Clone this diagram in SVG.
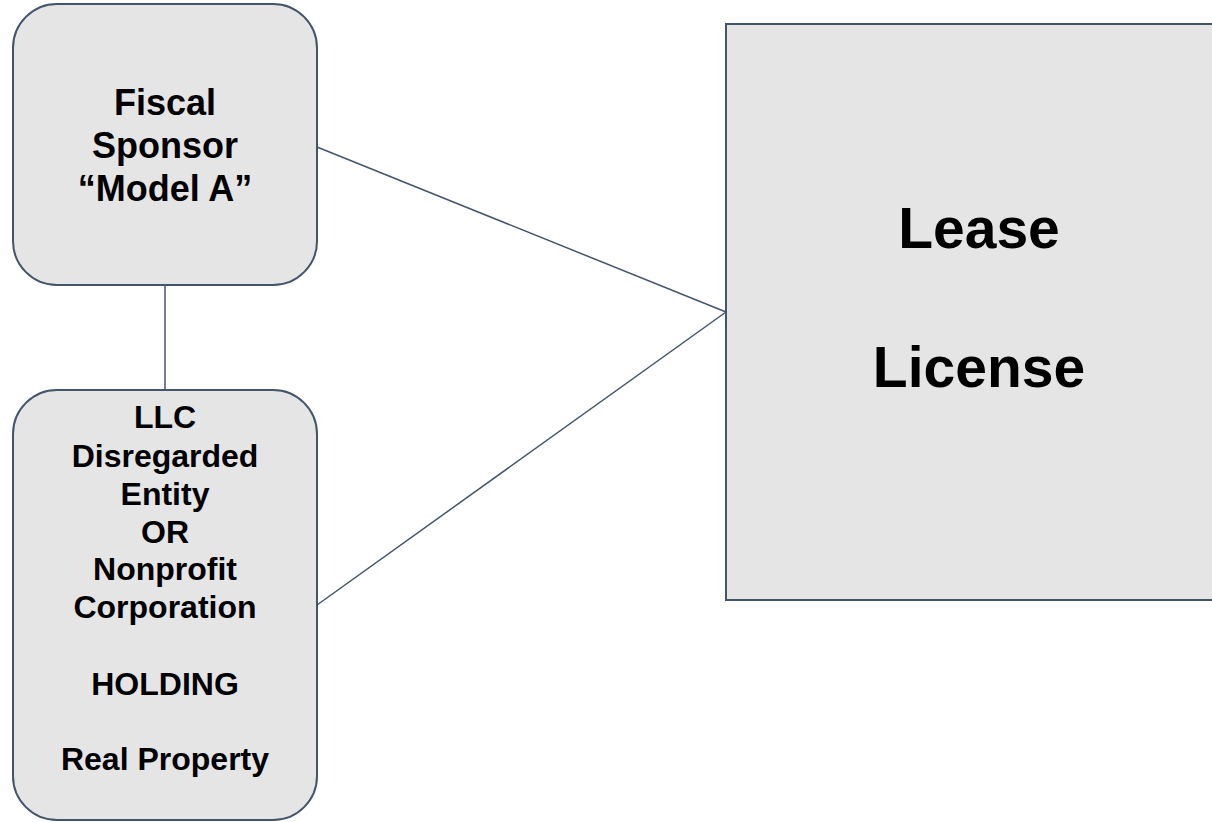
<svg xmlns="http://www.w3.org/2000/svg" width="1212" height="822" viewBox="0 0 1212 822">
<style>
.box{fill:#e5e5e5;stroke:#44546a;stroke-width:2}
.conn{stroke:#44546a;stroke-width:1.5;fill:none}
text{font-family:"Liberation Sans",Arial,sans-serif;font-weight:bold;fill:#000;text-anchor:middle}
.s{font-size:32px}
.m{font-size:36px}
.l{font-size:57px}
</style>
<rect width="1212" height="822" fill="#fff"/>
<g id="connectors">
<line class="conn" x1="165" y1="285" x2="165" y2="390"/>
<line class="conn" x1="317" y1="147" x2="726" y2="312"/>
<line class="conn" x1="317" y1="605" x2="726" y2="312"/>
</g>
<g id="fiscal-sponsor">
<rect class="box" x="13" y="4" width="304" height="281" rx="44" ry="44"/>
<text class="m" x="165" y="115">Fiscal</text>
<text class="m" x="165" y="158">Sponsor</text>
<text class="m" x="165" y="201">“Model A”</text>
</g>
<g id="llc-holding">
<rect class="box" x="13" y="390" width="304" height="430" rx="44" ry="44"/>
<text class="s" x="165" y="428">LLC</text>
<text class="s" x="165" y="467">Disregarded</text>
<text class="s" x="165" y="505">Entity</text>
<text class="s" x="165" y="543">OR</text>
<text class="s" x="165" y="580">Nonprofit</text>
<text class="s" x="165" y="618">Corporation</text>
<text class="s" x="165" y="695">HOLDING</text>
<text class="s" x="165" y="770">Real Property</text>
</g>
<g id="lease-license">
<rect class="box" x="726" y="24" width="506" height="576"/>
<text class="l" x="979" y="248">Lease</text>
<text class="l" x="979" y="387">License</text>
</g>
</svg>
